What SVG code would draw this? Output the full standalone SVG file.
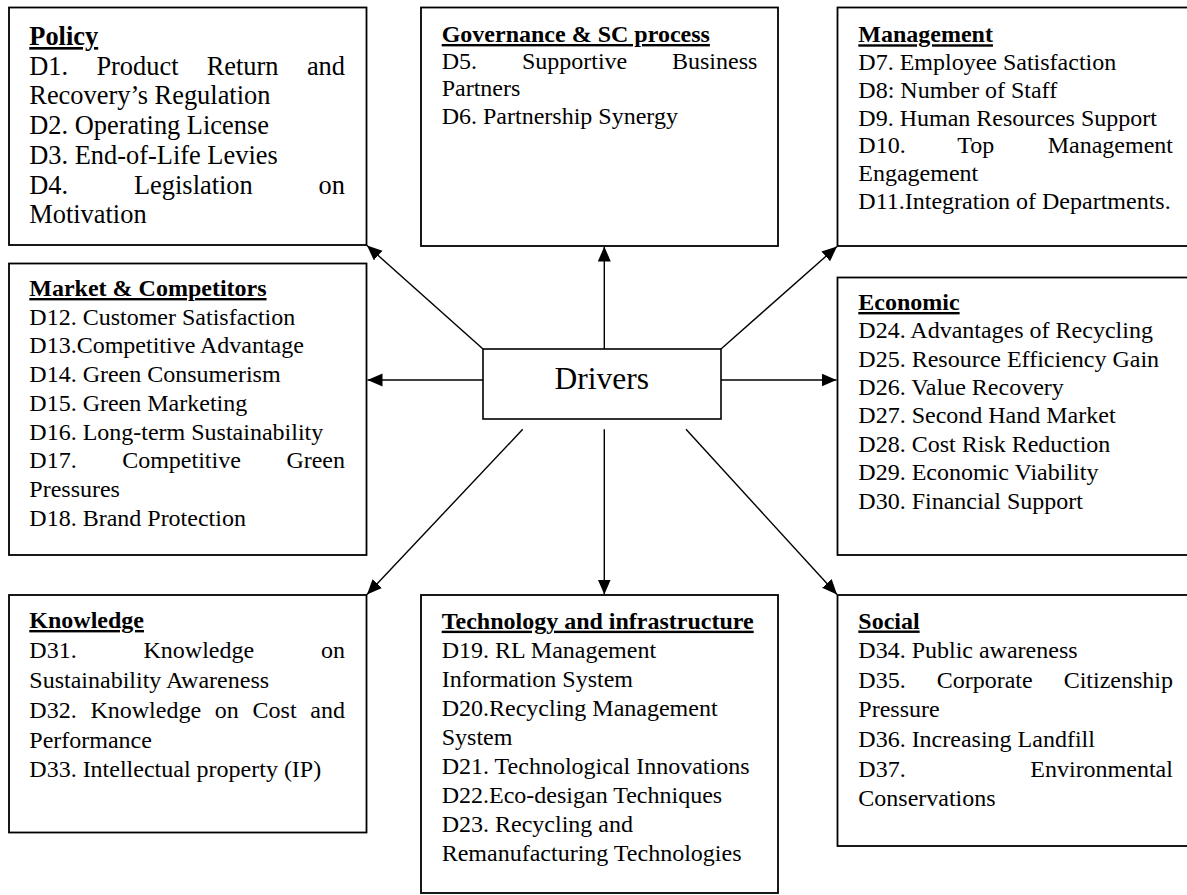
<svg xmlns="http://www.w3.org/2000/svg" width="1187" height="895" viewBox="0 0 1187 895">
<style>
.box{fill:#fff;stroke:#000;stroke-width:1.8}
.t{font-family:"Liberation Serif","Times New Roman",serif;font-size:24px;fill:#000}
.p{font-size:26.4px}
.h{font-weight:bold;text-decoration:underline}
.c{stroke:#000;stroke-width:1.4;fill:none;marker-end:url(#ah)}
</style>
<defs>
<marker id="ah" markerUnits="userSpaceOnUse" markerWidth="16" markerHeight="14" refX="15" refY="6.5" orient="auto">
<path d="M0,0 L15,6.5 L0,13 z" fill="#000"/>
</marker>
</defs>
<rect width="1187" height="895" fill="#fff"/>

<g id="connectors">
<line class="c" x1="604.3" y1="349" x2="604.3" y2="246.5"/>
<line class="c" x1="483" y1="380" x2="367.5" y2="380"/>
<line class="c" x1="721" y1="380" x2="836.5" y2="380"/>
<line class="c" x1="483" y1="349" x2="367" y2="245.5"/>
<line class="c" x1="721" y1="349" x2="837" y2="246.5"/>
<line class="c" x1="522.7" y1="429.3" x2="367" y2="594.5"/>
<line class="c" x1="604.3" y1="429.3" x2="604.3" y2="594.5"/>
<line class="c" x1="686" y1="429.3" x2="837" y2="594.5"/>
</g>

<g id="policy">
<rect class="box" x="9" y="7.5" width="357.5" height="237.5"/>
<text class="t p h" x="29.3" y="45">Policy</text>
<text class="t p" y="74.7"><tspan x="29.3">D1.</tspan><tspan x="96.4">Product</tspan><tspan x="206.7">Return</tspan><tspan x="306.9">and</tspan></text>
<text class="t p" x="29.3" y="104.4">Recovery’s Regulation</text>
<text class="t p" x="29.3" y="134.1">D2. Operating License</text>
<text class="t p" x="29.3" y="163.8">D3. End-of-Life Levies</text>
<text class="t p" y="193.5"><tspan x="29.3">D4.</tspan><tspan x="134">Legislation</tspan><tspan x="318.6">on</tspan></text>
<text class="t p" x="29.3" y="223.2">Motivation</text>
</g>

<g id="governance">
<rect class="box" x="421" y="7.5" width="357" height="238.5"/>
<text class="t h" x="441.7" y="42">Governance &amp; SC process</text>
<text class="t" y="69"><tspan x="441.7">D5.</tspan><tspan x="521.9">Supportive</tspan><tspan x="672">Business</tspan></text>
<text class="t" x="441.7" y="96">Partners</text>
<text class="t" x="441.7" y="123.5">D6. Partnership Synergy</text>
</g>

<g id="management">
<rect class="box" x="837.5" y="7.5" width="360" height="238.5"/>
<text class="t h" x="858.3" y="42.3">Management</text>
<text class="t" x="858.3" y="70.3">D7. Employee Satisfaction</text>
<text class="t" x="858.3" y="98">D8: Number of Staff</text>
<text class="t" x="858.3" y="125.7">D9. Human Resources Support</text>
<text class="t" y="153.4"><tspan x="858.3">D10.</tspan><tspan x="957.3">Top</tspan><tspan x="1047.7">Management</tspan></text>
<text class="t" x="858.3" y="181.1">Engagement</text>
<text class="t" x="858.3" y="208.8">D11.Integration of Departments.</text>
</g>

<g id="market">
<rect class="box" x="9" y="263.5" width="357.5" height="291.5"/>
<text class="t h" x="29.3" y="296">Market &amp; Competitors</text>
<text class="t" x="29.3" y="324.7">D12. Customer Satisfaction</text>
<text class="t" x="29.3" y="353.4">D13.Competitive Advantage</text>
<text class="t" x="29.3" y="382.1">D14. Green Consumerism</text>
<text class="t" x="29.3" y="410.8">D15. Green Marketing</text>
<text class="t" x="29.3" y="439.5">D16. Long-term Sustainability</text>
<text class="t" y="468.2"><tspan x="29.3">D17.</tspan><tspan x="122.2">Competitive</tspan><tspan x="286.4">Green</tspan></text>
<text class="t" x="29.3" y="496.9">Pressures</text>
<text class="t" x="29.3" y="525.6">D18. Brand Protection</text>
</g>

<g id="drivers">
<rect class="box" x="483" y="349" width="238" height="70" style="stroke-width:1.6"/>
<text class="t" x="601.8" y="389.3" text-anchor="middle" style="font-size:31.5px">Drivers</text>
</g>

<g id="economic">
<rect class="box" x="837.5" y="277.5" width="360" height="277.5"/>
<text class="t h" x="858.3" y="310">Economic</text>
<text class="t" x="858.3" y="338.3">D24. Advantages of Recycling</text>
<text class="t" x="858.3" y="366.7">D25. Resource Efficiency Gain</text>
<text class="t" x="858.3" y="395">D26. Value Recovery</text>
<text class="t" x="858.3" y="423.4">D27. Second Hand Market</text>
<text class="t" x="858.3" y="451.8">D28. Cost Risk Reduction</text>
<text class="t" x="858.3" y="480.2">D29. Economic Viability</text>
<text class="t" x="858.3" y="508.6">D30. Financial Support</text>
</g>

<g id="knowledge">
<rect class="box" x="9" y="595" width="357.5" height="237.5"/>
<text class="t h" x="29.3" y="628">Knowledge</text>
<text class="t" y="657.8"><tspan x="29.3">D31.</tspan><tspan x="143.5">Knowledge</tspan><tspan x="321">on</tspan></text>
<text class="t" x="29.3" y="687.7">Sustainability Awareness</text>
<text class="t" y="717.6"><tspan x="29.3">D32.</tspan><tspan x="90.4">Knowledge</tspan><tspan x="214.8">on</tspan><tspan x="252.6">Cost</tspan><tspan x="310.3">and</tspan></text>
<text class="t" x="29.3" y="747.5">Performance</text>
<text class="t" x="29.3" y="777.4">D33. Intellectual property (IP)</text>
</g>

<g id="technology">
<rect class="box" x="421" y="595" width="357" height="298"/>
<text class="t h" x="441.7" y="628.7">Technology and infrastructure</text>
<text class="t" x="441.7" y="657.9">D19. RL Management</text>
<text class="t" x="441.7" y="686.9">Information System</text>
<text class="t" x="441.7" y="715.9">D20.Recycling Management</text>
<text class="t" x="441.7" y="744.9">System</text>
<text class="t" x="441.7" y="773.9">D21. Technological Innovations</text>
<text class="t" x="441.7" y="802.9">D22.Eco-desigan Techniques</text>
<text class="t" x="441.7" y="831.9">D23. Recycling and</text>
<text class="t" x="441.7" y="860.9">Remanufacturing Technologies</text>
</g>

<g id="social">
<rect class="box" x="837.5" y="595" width="360" height="251"/>
<text class="t h" x="858.3" y="628.5">Social</text>
<text class="t" x="858.3" y="658.1">D34. Public awareness</text>
<text class="t" y="687.7"><tspan x="858.3">D35.</tspan><tspan x="936.7">Corporate</tspan><tspan x="1063.7">Citizenship</tspan></text>
<text class="t" x="858.3" y="717.3">Pressure</text>
<text class="t" x="858.3" y="746.9">D36. Increasing Landfill</text>
<text class="t" y="776.5"><tspan x="858.3">D37.</tspan><tspan x="1030.3">Environmental</tspan></text>
<text class="t" x="858.3" y="806.1">Conservations</text>
</g>
</svg>
